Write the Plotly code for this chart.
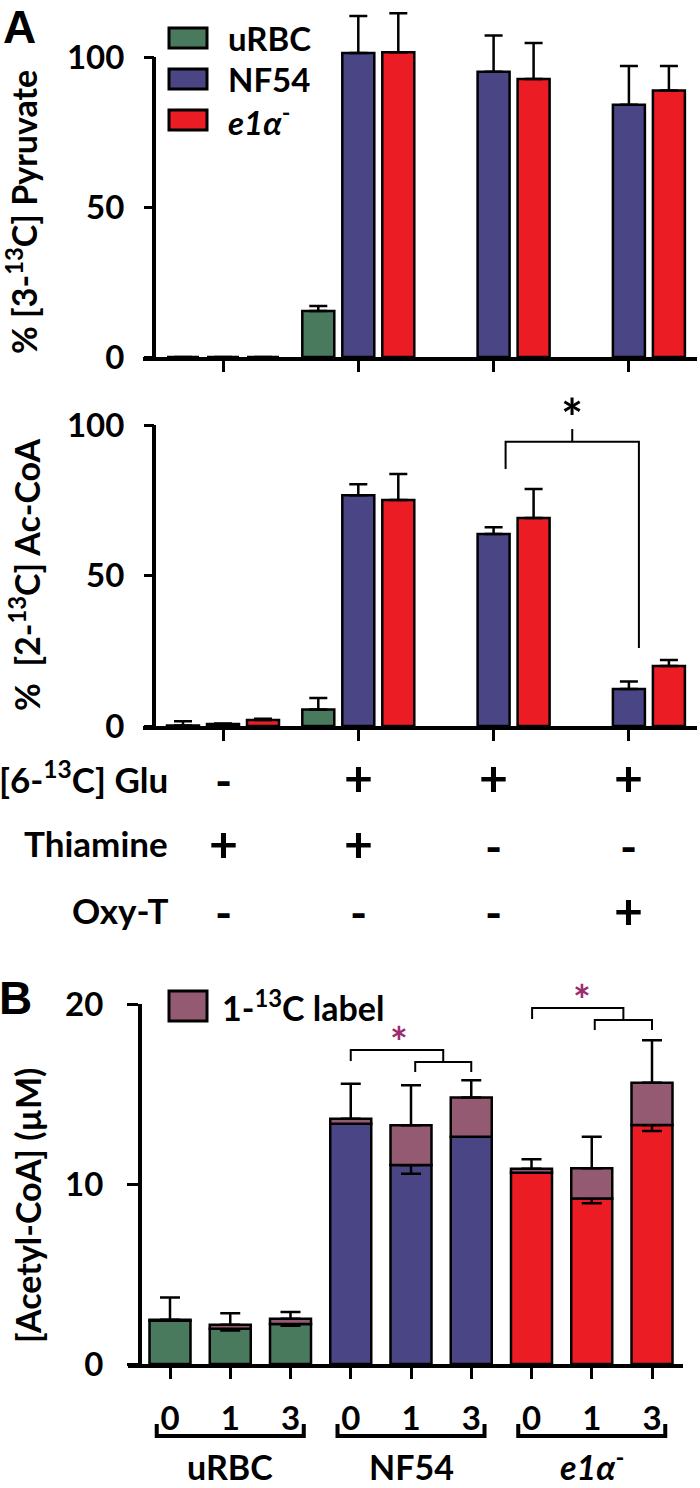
import plotly.graph_objects as go

W, H = 700, 1488
FONT = "Lato, 'Open Sans', sans-serif"

# ---------------- data ----------------
series_names = ["uRBC", "NF54", "e1α-"]
series_text = ["uRBC", "NF54", "<i>e1α</i><sup>-</sup>"]
series_colors = ["#4A7A5E", "#4A4585", "#EC1C24"]
label_text = "1-<sup>13</sup>C label"
label_color = "#935A72"

groups_a = [0, 1, 2, 3]

# % [3-13C] pyruvate
pyr_urbc = [0.0, 15.3, None, None]
pyr_urbc_err = [None, 1.7, None, None]
pyr_nf54 = [0.0, 101.3, 95.1, 84.1]
pyr_nf54_err = [None, 12.4, 12.1, 12.9]
pyr_e1a = [0.0, 101.6, 92.7, 88.8]
pyr_e1a_err = [None, 13.0, 12.0, 8.2]

# % [2-13C] Ac-CoA
acc_urbc = [0.2, 5.5, None, None]
acc_urbc_err = [1.4, 3.8, None, None]
acc_nf54 = [0.7, 76.7, 63.8, 12.3]
acc_nf54_err = [0.1, 3.6, 2.2, 2.5]
acc_e1a = [2.0, 75.1, 69.1, 19.9]
acc_e1a_err = [0.4, 8.6, 9.6, 2.0]

cond_labels = ["[6-<sup>13</sup>C] Glu", "Thiamine", "Oxy-T"]
cond_glu = ["-", "+", "+", "+"]
cond_thiamine = ["+", "+", "-", "-"]
cond_oxyt = ["-", "-", "-", "+"]

# panel B: [Acetyl-CoA] (uM)
b_strains = ["uRBC", "NF54", "<i>e1α</i><sup>-</sup>"]
b_times = ["0", "1", "3"]
b_unlabeled = [2.40, 1.96, 2.22, 13.35, 11.06, 12.63, 10.63, 9.19, 13.28]
b_labeled = [0.06, 0.22, 0.30, 0.28, 2.20, 2.17, 0.22, 1.68, 2.35]
b_err_up = [1.24, 0.64, 0.37, 1.94, 2.22, 0.96, 0.52, 1.76, 2.35]
b_err_down = [0.0, 0.10, 0.10, 0.0, 0.49, 0.0, 0.0, 0.26, 0.34]

# ---------------- geometry helpers ----------------
def px(x):
    return x / W

def py(y):
    return 1 - y / H

A_X0, A_X1, A_FIRST, A_STEP = 143, 697, 223, 135.3
A_YAX = 154
xr_a = [(A_X0 - A_FIRST) / A_STEP, (A_X1 - A_FIRST) / A_STEP]
bar_off = 40 / A_STEP
bar_w = 32 / A_STEP

A1_BOT, A1_TOP, A1_PPU = 357, 5, 3.0
A2_BOT, A2_TOP, A2_PPU = 726, 400, 3.01

B_X0, B_X1, B_FIRST, B_STEP = 128, 683, 170, 60.25
B_YAX = 140
B_BOT, B_TOP, B_PPU = 1364, 1004, 18.0
xr_b = [(B_X0 - B_FIRST) / B_STEP, (B_X1 - B_FIRST) / B_STEP]


def yp(v, bot, ppu):
    return py(bot - v * ppu)


fig = go.Figure()

# ---------------- panel A bars ----------------
pyr = [(pyr_urbc, pyr_urbc_err), (pyr_nf54, pyr_nf54_err), (pyr_e1a, pyr_e1a_err)]
acc = [(acc_urbc, acc_urbc_err), (acc_nf54, acc_nf54_err), (acc_e1a, acc_e1a_err)]
for data, xa, ya in [(pyr, "x", "y"), (acc, "x2", "y2")]:
    for j, (vals, errs) in enumerate(data):
        fig.add_trace(go.Bar(
            x=[g + (j - 1) * bar_off for g in groups_a], y=vals, width=bar_w,
            name=series_names[j], showlegend=False,
            marker=dict(color=series_colors[j], line=dict(color="black", width=2.5)),
            error_y=dict(type="data", array=errs, arrayminus=[0] * len(errs), symmetric=False,
                         color="black", thickness=2.5, width=9),
            xaxis=xa, yaxis=ya,
        ))

# ---------------- panel B bars ----------------
b_x = list(range(len(b_unlabeled)))
b_cols = [series_colors[k // 3] for k in b_x]
fig.add_trace(go.Bar(
    x=b_x, y=b_unlabeled, width=41 / B_STEP, showlegend=False, name="unlabeled",
    marker=dict(color=b_cols, line=dict(color="black", width=2.5)),
    error_y=dict(type="data", array=[0] * 9, arrayminus=b_err_down, symmetric=False,
                 color="black", thickness=2.5, width=10),
    xaxis="x3", yaxis="y3",
))
fig.add_trace(go.Bar(
    x=b_x, y=b_labeled, base=b_unlabeled, width=41 / B_STEP, showlegend=False, name="1-13C label",
    marker=dict(color=label_color, line=dict(color="black", width=2.5)),
    error_y=dict(type="data", array=b_err_up, arrayminus=[0] * 9, symmetric=False,
                 color="black", thickness=2.5, width=10),
    xaxis="x3", yaxis="y3",
))

tickfont = dict(family=FONT, size=33, color="black", weight="bold")
ax_common = dict(showgrid=False, zeroline=False, linecolor="black", tickcolor="black",
                 automargin=False)

fig.update_layout(
    width=W, height=H, margin=dict(l=0, r=0, t=0, b=0),
    paper_bgcolor="white", plot_bgcolor="white", barmode="overlay",
    showlegend=False,
    xaxis=dict(domain=[px(A_X0), px(A_X1)], range=xr_a, anchor="y", showline=True, linewidth=4,
               ticks="outside", tickvals=groups_a, ticklen=11, tickwidth=3, showticklabels=False, **ax_common),
    yaxis=dict(domain=[py(A1_BOT), py(A1_TOP)], range=[0, (A1_BOT - A1_TOP) / A1_PPU], anchor="free",
               position=px(A_YAX), showline=False, ticks="outside", tickvals=[0, 50, 100], ticklen=10,
               tickwidth=3, tickfont=tickfont, ticklabelstandoff=13, **ax_common),
    xaxis2=dict(domain=[px(A_X0), px(A_X1)], range=xr_a, anchor="y2", showline=True, linewidth=4,
                ticks="outside", tickvals=groups_a, ticklen=11, tickwidth=3, showticklabels=False, **ax_common),
    yaxis2=dict(domain=[py(A2_BOT), py(A2_TOP)], range=[0, (A2_BOT - A2_TOP) / A2_PPU], anchor="free",
                position=px(A_YAX), showline=False, ticks="outside", tickvals=[0, 50, 100], ticklen=10,
                tickwidth=3, tickfont=tickfont, ticklabelstandoff=13, **ax_common),
    xaxis3=dict(domain=[px(B_X0), px(B_X1)], range=xr_b, anchor="y3", showline=True, linewidth=4,
                ticks="outside", tickvals=b_x, ticktext=b_times * 3, ticklen=11, tickwidth=3,
                tickfont=tickfont, ticklabelstandoff=11, **ax_common),
    yaxis3=dict(domain=[py(B_BOT), py(B_TOP)], range=[0, (B_BOT - B_TOP) / B_PPU], anchor="free",
                position=px(B_YAX), showline=True, linewidth=4, ticks="outside", tickvals=[0, 10, 20],
                ticklen=11, tickwidth=3, tickfont=tickfont, ticklabelstandoff=17, **ax_common),
)

shapes = []
ann = []

# y axis lines of panel A (0..100)
for bot, ppu in [(A1_BOT, A1_PPU), (A2_BOT, A2_PPU)]:
    shapes.append(dict(type="line", xref="paper", yref="paper", x0=px(A_YAX), x1=px(A_YAX),
                       y0=yp(0, bot, ppu), y1=yp(100, bot, ppu), line=dict(color="black", width=4)))

# legend panel A
for j in range(3):
    yc = 38 + 41 * j
    shapes.append(dict(type="rect", xref="paper", yref="paper", x0=px(169), x1=px(207),
                       y0=py(yc + 10), y1=py(yc - 10), fillcolor=series_colors[j],
                       line=dict(color="black", width=3)))
    ann.append(dict(x=px(226), y=py(yc), xref="paper", yref="paper", text=series_text[j],
                    xanchor="left", yanchor="middle", showarrow=False,
                    font=dict(family=FONT, size=33, color="black", weight="bold")))

# legend panel B
shapes.append(dict(type="rect", xref="paper", yref="paper", x0=px(169), x1=px(207),
                   y0=py(1021), y1=py(991), fillcolor=label_color, line=dict(color="black", width=3)))
ann.append(dict(x=px(220), y=py(1006), xref="paper", yref="paper", text=label_text,
                xanchor="left", yanchor="middle", showarrow=False,
                font=dict(family=FONT, size=34, color="black", weight="bold")))

# significance bracket panel A (Ac-CoA), NF54 group 3 vs group 4
xl, xr = 2 + 12 / A_STEP, 3 + 10 / A_STEP
xc = (xl + xr) / 2
shapes.append(dict(type="path", xref="x2", yref="y2",
                   path=f"M {xl},85.4 V 94.4 H {xr} V 25.9 M {xc},94.4 V 98.7",
                   line=dict(color="black", width=2)))
ann.append(dict(x=xc, y=yp(102.5, A2_BOT, A2_PPU), xref="x2", yref="paper", text="*", showarrow=False,
                xanchor="center", yanchor="middle",
                font=dict(family=FONT, size=52, color="black", weight="bold")))

# significance brackets panel B
star_col = "#9B2C6F"
for (o0, y_out, yo_bot, i0, i1, y_in, yi_bot, sx, sy) in [
        (3.0, 17.44, 16.83, 4.07, 5.0, 16.78, 16.22, 3.8, 17.9),
        (6.01, 19.78, 19.17, 7.05, 8.0, 19.11, 18.56, 6.84, 20.25)]:
    im = (i0 + i1) / 2
    shapes.append(dict(type="path", xref="x3", yref="y3",
                       path=(f"M {o0},{yo_bot} V {y_out} H {im} V {y_in} "
                             f"M {i0},{yi_bot} V {y_in} H {i1} V {yi_bot}"),
                       line=dict(color="black", width=2)))
    ann.append(dict(x=sx, y=yp(sy, B_BOT, B_PPU), xref="x3", yref="paper", text="*", showarrow=False,
                    xanchor="center", yanchor="middle",
                    font=dict(family=FONT, size=42, color=star_col, weight="bold")))

# group brackets under panel B
for g in range(3):
    x0, x1 = 3 * g - 0.22, 3 * g + 2 + 0.22
    shapes.append(dict(type="path", xref="x3", yref="paper",
                       path=f"M {x0},{py(1424)} V {py(1436)} H {x1} V {py(1424)}",
                       line=dict(color="black", width=4)))
    ann.append(dict(x=3 * g + 1, y=0, xref="x3", yref="paper", text=b_strains[g],
                    showarrow=False, xanchor="center", yanchor="bottom", borderpad=0,
                    font=dict(family=FONT, size=34, color="black", weight="bold")))

# condition rows
rows = [cond_glu, cond_thiamine, cond_oxyt]
row_y = [777, 843, 910]
for r in range(3):
    ann.append(dict(x=px(170), y=py(row_y[r]), xref="paper", yref="paper", text=cond_labels[r],
                    xanchor="right", yanchor="middle", showarrow=False,
                    font=dict(family=FONT, size=35, color="black", weight="bold")))
    for g in groups_a:
        plus = rows[r][g] == "+"
        ann.append(dict(x=g, y=py(row_y[r] + (0 if plus else 3)), xref="x2", yref="paper",
                        text=rows[r][g], xanchor="center", yanchor="middle", showarrow=False,
                        font=dict(family=FONT, size=50 if plus else 46,
                                  color="black", weight="bold")))

# y axis titles
for txt, xx, yy in [("% [3-<sup>13</sup>C] Pyruvate", 22, 212),
                    ("%  [2-<sup>13</sup>C] Ac-CoA", 25, 575),
                    ("[Acetyl-CoA] (µM)", 27, 1206)]:
    ann.append(dict(x=px(xx), y=py(yy), xref="paper", yref="paper", text=txt, textangle=-90,
                    xanchor="center", yanchor="middle", showarrow=False,
                    font=dict(family=FONT, size=34, color="black", weight="bold")))

# panel letters
ann.append(dict(x=px(19), y=1, xref="paper", yref="paper", text="A", showarrow=False,
                xanchor="center", yanchor="top", borderpad=0,
                font=dict(family="Liberation Sans, Arial, sans-serif", size=46, color="black",
                          weight="bold")))
ann.append(dict(x=px(15), y=py(998), xref="paper", yref="paper", text="B", showarrow=False,
                xanchor="center", yanchor="middle",
                font=dict(family="Liberation Sans, Arial, sans-serif", size=46, color="black",
                          weight="bold")))

fig.update_layout(shapes=shapes, annotations=ann)
fig.write_html("out.html", config={"displayModeBar": False},
               post_script="document.body.style.margin='0';")
